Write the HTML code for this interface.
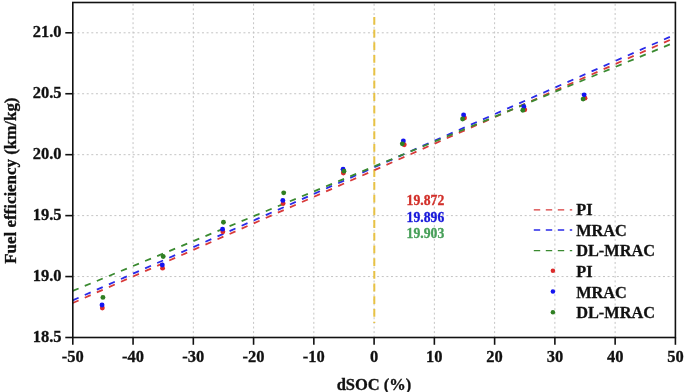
<!DOCTYPE html><html><head><meta charset="utf-8"><style>html,body{margin:0;padding:0;background:#fff;}svg{display:block;will-change:transform;}text{font-family:"Liberation Serif",serif;font-weight:bold;}</style></head><body>
<svg width="685" height="392" viewBox="0 0 685 392">
<rect width="685" height="392" fill="#fff"/>
<g stroke="#c4c4c4" stroke-width="1" stroke-dasharray="2 2.61"><line x1="133.06" y1="3.8" x2="133.06" y2="337.5"/><line x1="193.32" y1="3.8" x2="193.32" y2="337.5"/><line x1="253.58" y1="3.8" x2="253.58" y2="337.5"/><line x1="313.84" y1="3.8" x2="313.84" y2="337.5"/><line x1="374.10" y1="3.8" x2="374.10" y2="337.5"/><line x1="434.36" y1="3.8" x2="434.36" y2="337.5"/><line x1="494.62" y1="3.8" x2="494.62" y2="337.5"/><line x1="554.88" y1="3.8" x2="554.88" y2="337.5"/><line x1="615.14" y1="3.8" x2="615.14" y2="337.5"/><line x1="72.88" y1="276.56" x2="675.4" y2="276.56"/><line x1="72.88" y1="215.62" x2="675.4" y2="215.62"/><line x1="72.88" y1="154.68" x2="675.4" y2="154.68"/><line x1="72.88" y1="93.74" x2="675.4" y2="93.74"/><line x1="72.88" y1="32.80" x2="675.4" y2="32.80"/></g>
<line x1="374.3" y1="16.9" x2="374.3" y2="323" stroke="#e8c244" stroke-width="2" stroke-dasharray="7.8 4.9"/>
<path d="M72.70 303.05L78.60 300.45M84.77 297.74L90.67 295.14M96.83 292.42L102.73 289.82M108.90 287.10L114.80 284.51M120.97 281.79L126.87 279.19M133.03 276.47L138.94 273.87M145.10 271.16L151.00 268.56M157.17 265.84L163.07 263.24M169.24 260.53L175.14 257.93M181.30 255.21L187.20 252.61M193.37 249.90L199.27 247.30M205.44 244.58L211.34 241.98M217.50 239.26L223.40 236.66M229.57 233.95L235.47 231.35M241.64 228.63L247.54 226.03M253.70 223.32L259.60 220.72M265.77 218.00L271.67 215.40M277.84 212.69L283.74 210.09M289.91 207.37L295.81 204.77M301.97 202.05L307.87 199.45M314.04 196.74L319.94 194.14M326.11 191.42L332.01 188.82M338.17 186.11L344.07 183.51M350.24 180.79L356.14 178.19M362.31 175.48L368.21 172.88M374.38 170.16L380.27 167.56M386.44 164.84L392.34 162.24M398.51 159.53L404.41 156.93M410.58 154.21L416.48 151.61M422.64 148.90L428.54 146.30M434.71 143.58L440.61 140.98M446.78 138.27L452.68 135.67M458.84 132.95L464.74 130.35M470.91 127.63L476.81 125.03M482.98 122.32L488.88 119.72M495.05 117.00L500.94 114.40M507.11 111.69L513.01 109.09M519.18 106.37L525.08 103.77M531.25 101.06L537.15 98.46M543.31 95.74L549.21 93.14M555.38 90.42L561.28 87.82M567.45 85.11L573.35 82.51M579.51 79.79L585.41 77.19M591.58 74.48L597.48 71.88M603.65 69.16L609.55 66.56M615.72 63.85L621.62 61.25M627.78 58.53L633.68 55.93M639.85 53.21L645.75 50.62M651.92 47.90L657.82 45.30M663.98 42.58L669.88 39.98" stroke="#d83a3a" stroke-width="1.8" fill="none"/>
<path d="M72.70 300.31L78.60 297.71M84.77 294.99L90.67 292.38M96.83 289.66L102.73 287.06M108.90 284.34L114.80 281.74M120.97 279.02L126.87 276.42M133.03 273.69L138.94 271.09M145.10 268.37L151.00 265.77M157.17 263.05L163.07 260.45M169.24 257.73L175.14 255.12M181.30 252.40L187.20 249.80M193.37 247.08L199.27 244.48M205.44 241.76L211.34 239.15M217.50 236.43L223.40 233.83M229.57 231.11L235.47 228.51M241.64 225.79L247.54 223.18M253.70 220.46L259.60 217.86M265.77 215.14L271.67 212.54M277.84 209.82L283.74 207.22M289.91 204.50L295.81 201.89M301.97 199.17L307.87 196.57M314.04 193.85L319.94 191.25M326.11 188.53L332.01 185.92M338.17 183.20L344.07 180.60M350.24 177.88L356.14 175.28M362.31 172.56L368.21 169.95M374.38 167.23L380.27 164.63M386.44 161.91L392.34 159.31M398.51 156.59L404.41 153.99M410.58 151.27L416.48 148.66M422.64 145.94L428.54 143.34M434.71 140.62L440.61 138.02M446.78 135.30L452.68 132.69M458.84 129.97L464.74 127.37M470.91 124.65L476.81 122.05M482.98 119.33L488.88 116.72M495.05 114.00L500.94 111.40M507.11 108.68L513.01 106.08M519.18 103.36L525.08 100.76M531.25 98.03L537.15 95.43M543.31 92.71L549.21 90.11M555.38 87.39L561.28 84.79M567.45 82.07L573.35 79.46M579.51 76.74L585.41 74.14M591.58 71.42L597.48 68.82M603.65 66.10L609.55 63.49M615.72 60.77L621.62 58.17M627.78 55.45L633.68 52.85M639.85 50.13L645.75 47.53M651.92 44.80L657.82 42.20M663.98 39.48L669.88 36.88" stroke="#2a2ae8" stroke-width="1.8" fill="none"/>
<path d="M72.70 290.92L78.60 288.49M84.77 285.94L90.67 283.51M96.83 280.96L102.73 278.52M108.90 275.98L114.80 273.54M120.97 271.00L126.87 268.56M133.03 266.02L138.94 263.58M145.10 261.03L151.00 258.60M157.17 256.05L163.07 253.62M169.24 251.07L175.14 248.64M181.30 246.09L187.20 243.65M193.37 241.11L199.27 238.67M205.44 236.13L211.34 233.69M217.50 231.15L223.40 228.71M229.57 226.16L235.47 223.73M241.64 221.18L247.54 218.75M253.70 216.20L259.60 213.77M265.77 211.22L271.67 208.79M277.84 206.24L283.74 203.80M289.91 201.26L295.81 198.82M301.97 196.28L307.87 193.84M314.04 191.30L319.94 188.86M326.11 186.31L332.01 183.88M338.17 181.33L344.07 178.90M350.24 176.35L356.14 173.92M362.31 171.37L368.21 168.93M374.38 166.39L380.27 163.95M386.44 161.41L392.34 158.97M398.51 156.43L404.41 153.99M410.58 151.44L416.48 149.01M422.64 146.46L428.54 144.03M434.71 141.48L440.61 139.05M446.78 136.50L452.68 134.07M458.84 131.52L464.74 129.08M470.91 126.54L476.81 124.10M482.98 121.56L488.88 119.12M495.05 116.58L500.94 114.14M507.11 111.59L513.01 109.16M519.18 106.61L525.08 104.18M531.25 101.63L537.15 99.20M543.31 96.65L549.21 94.21M555.38 91.67L561.28 89.23M567.45 86.69L573.35 84.25M579.51 81.71L585.41 79.27M591.58 76.72L597.48 74.29M603.65 71.74L609.55 69.31M615.72 66.76L621.62 64.33M627.78 61.78L633.68 59.35M639.85 56.80L645.75 54.36M651.92 51.82L657.82 49.38M663.98 46.84L669.88 44.40" stroke="#3a8a30" stroke-width="1.8" fill="none"/>
<circle cx="102.33" cy="308.01" r="2.45" fill="#dc2b2b"/>
<circle cx="162.59" cy="268.15" r="2.45" fill="#dc2b2b"/>
<circle cx="222.85" cy="231.83" r="2.45" fill="#dc2b2b"/>
<circle cx="283.11" cy="203.43" r="2.45" fill="#dc2b2b"/>
<circle cx="343.37" cy="172.96" r="2.45" fill="#dc2b2b"/>
<circle cx="404.23" cy="144.81" r="2.45" fill="#dc2b2b"/>
<circle cx="464.49" cy="117.99" r="2.45" fill="#dc2b2b"/>
<circle cx="524.75" cy="109.71" r="2.45" fill="#dc2b2b"/>
<circle cx="585.01" cy="98.13" r="2.45" fill="#dc2b2b"/>
<circle cx="102.03" cy="304.96" r="2.45" fill="#1414f0"/>
<circle cx="162.29" cy="264.98" r="2.45" fill="#1414f0"/>
<circle cx="222.55" cy="229.15" r="2.45" fill="#1414f0"/>
<circle cx="282.81" cy="200.38" r="2.45" fill="#1414f0"/>
<circle cx="343.07" cy="169.18" r="2.45" fill="#1414f0"/>
<circle cx="403.33" cy="141.03" r="2.45" fill="#1414f0"/>
<circle cx="463.59" cy="115.07" r="2.45" fill="#1414f0"/>
<circle cx="523.85" cy="106.66" r="2.45" fill="#1414f0"/>
<circle cx="584.11" cy="94.84" r="2.45" fill="#1414f0"/>
<circle cx="102.93" cy="297.40" r="2.45" fill="#2f7f22"/>
<circle cx="163.19" cy="256.45" r="2.45" fill="#2f7f22"/>
<circle cx="223.45" cy="222.26" r="2.45" fill="#2f7f22"/>
<circle cx="283.71" cy="192.83" r="2.45" fill="#2f7f22"/>
<circle cx="343.97" cy="171.13" r="2.45" fill="#2f7f22"/>
<circle cx="402.33" cy="143.83" r="2.45" fill="#2f7f22"/>
<circle cx="462.59" cy="118.97" r="2.45" fill="#2f7f22"/>
<circle cx="522.85" cy="110.32" r="2.45" fill="#2f7f22"/>
<circle cx="583.11" cy="99.10" r="2.45" fill="#2f7f22"/>
<g stroke="#111" stroke-width="1.6" fill="none"><rect x="72.8" y="2.5" width="602.60" height="335.00"/>
<line x1="72.80" y1="337.5" x2="72.80" y2="344.8"/>
<line x1="133.06" y1="337.5" x2="133.06" y2="344.8"/>
<line x1="193.32" y1="337.5" x2="193.32" y2="344.8"/>
<line x1="253.58" y1="337.5" x2="253.58" y2="344.8"/>
<line x1="313.84" y1="337.5" x2="313.84" y2="344.8"/>
<line x1="374.10" y1="337.5" x2="374.10" y2="344.8"/>
<line x1="434.36" y1="337.5" x2="434.36" y2="344.8"/>
<line x1="494.62" y1="337.5" x2="494.62" y2="344.8"/>
<line x1="554.88" y1="337.5" x2="554.88" y2="344.8"/>
<line x1="615.14" y1="337.5" x2="615.14" y2="344.8"/>
<line x1="675.40" y1="337.5" x2="675.40" y2="344.8"/>
<line x1="65.3" y1="337.50" x2="72.8" y2="337.50"/>
<line x1="65.3" y1="276.56" x2="72.8" y2="276.56"/>
<line x1="65.3" y1="215.62" x2="72.8" y2="215.62"/>
<line x1="65.3" y1="154.68" x2="72.8" y2="154.68"/>
<line x1="65.3" y1="93.74" x2="72.8" y2="93.74"/>
<line x1="65.3" y1="32.80" x2="72.8" y2="32.80"/>
</g>
<text x="61.50" y="342.10" font-size="16.5" fill="#111" stroke="#111" stroke-width="0.3" text-anchor="end">18.5</text>
<text x="61.50" y="281.16" font-size="16.5" fill="#111" stroke="#111" stroke-width="0.3" text-anchor="end">19.0</text>
<text x="61.50" y="220.22" font-size="16.5" fill="#111" stroke="#111" stroke-width="0.3" text-anchor="end">19.5</text>
<text x="61.50" y="159.28" font-size="16.5" fill="#111" stroke="#111" stroke-width="0.3" text-anchor="end">20.0</text>
<text x="61.50" y="98.34" font-size="16.5" fill="#111" stroke="#111" stroke-width="0.3" text-anchor="end">20.5</text>
<text x="61.50" y="37.40" font-size="16.5" fill="#111" stroke="#111" stroke-width="0.3" text-anchor="end">21.0</text>
<text transform="translate(72.80,361.80) scale(1,1.06)" font-size="16.5" fill="#111" stroke="#111" stroke-width="0.3" text-anchor="middle">-50</text>
<text transform="translate(133.06,361.80) scale(1,1.06)" font-size="16.5" fill="#111" stroke="#111" stroke-width="0.3" text-anchor="middle">-40</text>
<text transform="translate(193.32,361.80) scale(1,1.06)" font-size="16.5" fill="#111" stroke="#111" stroke-width="0.3" text-anchor="middle">-30</text>
<text transform="translate(253.58,361.80) scale(1,1.06)" font-size="16.5" fill="#111" stroke="#111" stroke-width="0.3" text-anchor="middle">-20</text>
<text transform="translate(313.84,361.80) scale(1,1.06)" font-size="16.5" fill="#111" stroke="#111" stroke-width="0.3" text-anchor="middle">-10</text>
<text transform="translate(374.10,361.80) scale(1,1.06)" font-size="16.5" fill="#111" stroke="#111" stroke-width="0.3" text-anchor="middle">0</text>
<text transform="translate(434.36,361.80) scale(1,1.06)" font-size="16.5" fill="#111" stroke="#111" stroke-width="0.3" text-anchor="middle">10</text>
<text transform="translate(494.62,361.80) scale(1,1.06)" font-size="16.5" fill="#111" stroke="#111" stroke-width="0.3" text-anchor="middle">20</text>
<text transform="translate(554.88,361.80) scale(1,1.06)" font-size="16.5" fill="#111" stroke="#111" stroke-width="0.3" text-anchor="middle">30</text>
<text transform="translate(615.14,361.80) scale(1,1.06)" font-size="16.5" fill="#111" stroke="#111" stroke-width="0.3" text-anchor="middle">40</text>
<text transform="translate(675.40,361.80) scale(1,1.06)" font-size="16.5" fill="#111" stroke="#111" stroke-width="0.3" text-anchor="middle">50</text>
<text x="374.00" y="390.20" font-size="16.5" fill="#111" stroke="#111" stroke-width="0.3" text-anchor="middle">dSOC (%)</text>
<text transform="translate(16.4,180.6) rotate(-90) scale(1.045,1)" font-size="16.2" text-anchor="middle" fill="#111" stroke="#111" stroke-width="0.3">Fuel efficiency (km/kg)</text>
<text transform="translate(406.60,204.90) scale(1,1.09)" font-size="13.7" fill="#d2302a" stroke="#d2302a" stroke-width="0.3">19.872</text>
<text transform="translate(406.60,221.70) scale(1,1.09)" font-size="13.7" fill="#1a1adb" stroke="#1a1adb" stroke-width="0.3">19.896</text>
<text transform="translate(406.60,237.60) scale(1,1.09)" font-size="13.7" fill="#48a05a" stroke="#48a05a" stroke-width="0.3">19.903</text>
<line x1="533.8" y1="209.8" x2="572.2" y2="209.8" stroke="#d83a3a" stroke-width="1.3" stroke-dasharray="6.4 5.6"/>
<line x1="533.8" y1="230.0" x2="572.2" y2="230.0" stroke="#2a2ae8" stroke-width="1.3" stroke-dasharray="6.4 5.6"/>
<line x1="533.8" y1="250.6" x2="572.2" y2="250.6" stroke="#3a8a30" stroke-width="1.3" stroke-dasharray="6.4 5.6"/>
<circle cx="552.9" cy="270.80" r="2.25" fill="#dc2b2b"/>
<circle cx="552.9" cy="291.50" r="2.25" fill="#1414f0"/>
<circle cx="552.9" cy="312.20" r="2.25" fill="#2f7f22"/>
<text transform="translate(576.20,215.40) scale(1,1.07)" font-size="16.3" fill="#111" stroke="#111" stroke-width="0.3">PI</text>
<text transform="translate(576.20,235.60) scale(1,1.07)" font-size="16.3" fill="#111" stroke="#111" stroke-width="0.3">MRAC</text>
<text transform="translate(576.20,256.20) scale(1,1.07)" font-size="16.3" fill="#111" stroke="#111" stroke-width="0.3">DL-MRAC</text>
<text transform="translate(576.20,276.80) scale(1,1.07)" font-size="16.3" fill="#111" stroke="#111" stroke-width="0.3">PI</text>
<text transform="translate(576.20,297.50) scale(1,1.07)" font-size="16.3" fill="#111" stroke="#111" stroke-width="0.3">MRAC</text>
<text transform="translate(576.20,318.20) scale(1,1.07)" font-size="16.3" fill="#111" stroke="#111" stroke-width="0.3">DL-MRAC</text>
</svg></body></html>
